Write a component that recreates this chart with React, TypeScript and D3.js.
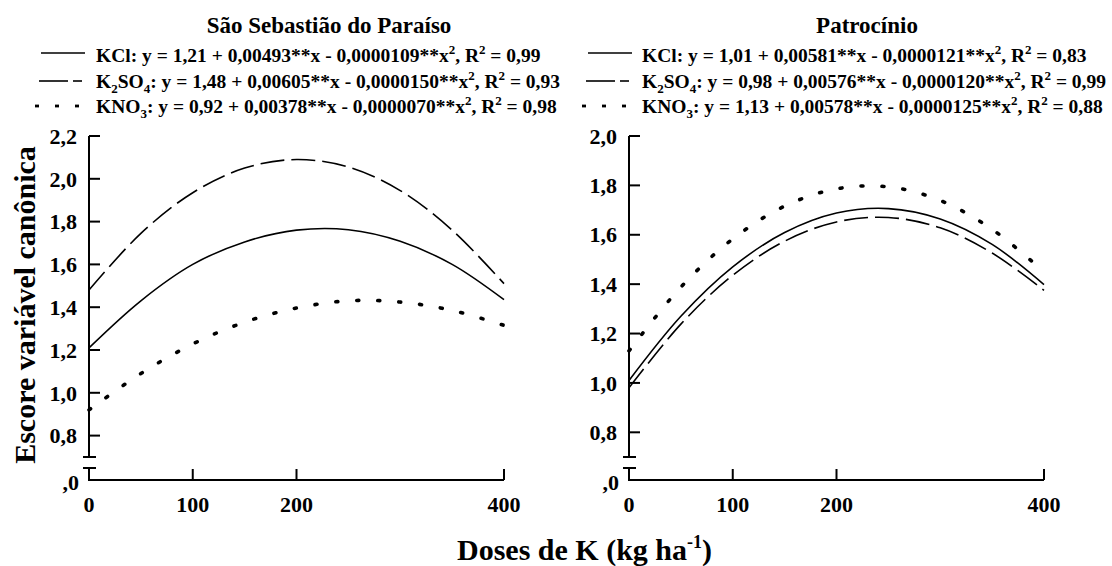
import * as d3 from "d3";

// doses of K (kg/ha) where curve values were read
const doses = [0, 50, 100, 150, 200, 250, 300, 350, 400];

// São Sebastião do Paraíso
const sspKCl = [1.21, 1.43, 1.6, 1.705, 1.76, 1.762, 1.708, 1.6, 1.435];
const sspK2SO4 = [1.48, 1.745, 1.935, 2.05, 2.09, 2.055, 1.945, 1.76, 1.51];
const sspKNO3 = [0.92, 1.09, 1.228, 1.33, 1.396, 1.43, 1.424, 1.385, 1.315];

// Patrocínio
const patKCl = [1.01, 1.27, 1.47, 1.609, 1.688, 1.706, 1.664, 1.561, 1.398];
const patK2SO4 = [0.98, 1.238, 1.436, 1.574, 1.652, 1.67, 1.628, 1.526, 1.375];
const patKNO3 = [1.13, 1.388, 1.583, 1.716, 1.786, 1.794, 1.739, 1.622, 1.45];

const xTicks = [0, 100, 200, 400];
const sspYTicks = [0.8, 1.0, 1.2, 1.4, 1.6, 1.8, 2.0, 2.2];
const patYTicks = [0.8, 1.0, 1.2, 1.4, 1.6, 1.8, 2.0];

// legend equations: [name pieces (odd = subscript), a, b, c, r2]
const sspEq = [
  [["KCl"], "1,21", "0,00493", "0,0000109", "0,99"],
  [["K", "2", "SO", "4"], "1,48", "0,00605", "0,0000150", "0,93"],
  [["KNO", "3"], "0,92", "0,00378", "0,0000070", "0,98"],
];
const patEq = [
  [["KCl"], "1,01", "0,00581", "0,0000121", "0,83"],
  [["K", "2", "SO", "4"], "0,98", "0,00576", "0,0000120", "0,99"],
  [["KNO", "3"], "1,13", "0,00578", "0,0000125", "0,88"],
];

const FONT = "Liberation Serif";
const txt = { fontFamily: FONT, fontWeight: 700 } as const;
const dashes = ["none", "24,7", "2,19"];

const fmt = (v: number) => (v === 0 ? ",0" : d3.format(".1f")(v).replace(".", ","));

function Formula({ x, y, eq }: { x: number; y: number; eq: any[] }) {
  const [name, a, b, c, r2] = eq;
  let shift = 0;
  const nodes = (name as string[]).map((p, i) => {
    const target = i % 2 === 1 ? 5 : 0;
    const dy = target - shift;
    shift = target;
    return (
      <tspan key={i} dy={dy} fontSize={i % 2 === 1 ? 13 : 19.5}>
        {p}
      </tspan>
    );
  });
  const back = -shift;
  return (
    <text x={x} y={y} style={{ ...txt, fontSize: 19.5 }}>
      {nodes}
      <tspan dy={back}>{`: y = ${a} + ${b}**x - ${c}**x`}</tspan>
      <tspan dy={-8} fontSize={13}>2</tspan>
      <tspan dy={8}>{", R"}</tspan>
      <tspan dy={-8} fontSize={13}>2</tspan>
      <tspan dy={8}>{` = ${r2}`}</tspan>
    </text>
  );
}

function Panel({ x0, x1, yTop, yMax, yTicks, series, title, titleX, eqs, legendX, textX }: any) {
  const yBreak = 457;
  const xAxisY = 480;
  const x = d3.scaleLinear().domain([0, 400]).range([x0, x1]);
  const y = d3.scaleLinear().domain([0.7, yMax]).range([yBreak, yTop]);
  const line = d3
    .line<number>()
    .x((_, i) => x(doses[i]))
    .y((d) => y(d))
    .curve(d3.curveCatmullRom.alpha(0.5));

  const sampleY = [53, 81, 106];
  const baseY = [61.5, 88, 113];
  return (
    <g>
      <text x={titleX} y={33} textAnchor="middle" style={{ ...txt, fontSize: 23 }}>
        {title}
      </text>
      {/* legend */}
      {eqs.map((eq: any[], i: number) => (
        <g key={i}>
          {i === 0 && (
            <line x1={legendX + 1} x2={legendX + 45} y1={sampleY[i]} y2={sampleY[i]} stroke="#000" strokeWidth={1.6} />
          )}
          {i === 1 && (
            <g>
              <line x1={legendX - 1} x2={legendX + 28} y1={sampleY[i]} y2={sampleY[i]} stroke="#000" strokeWidth={1.6} />
              <line x1={legendX + 33} x2={legendX + 42} y1={sampleY[i]} y2={sampleY[i]} stroke="#000" strokeWidth={1.6} />
            </g>
          )}
          {i === 2 &&
            [0, 20, 40].map((d) => (
              <line
                key={d}
                x1={legendX - 5 + d}
                x2={legendX - 1 + d}
                y1={sampleY[i]}
                y2={sampleY[i]}
                stroke="#000"
                strokeWidth={2.8}
              />
            ))}
          <Formula x={textX} y={baseY[i]} eq={eq} />
        </g>
      ))}

      {/* y axis upper segment */}
      <line x1={x0} x2={x0} y1={y(yMax)} y2={yBreak} stroke="#000" strokeWidth={2} />
      <line x1={x0 - 6} x2={x0 + 7} y1={yBreak} y2={yBreak} stroke="#000" strokeWidth={2} />
      {/* lower segment */}
      <line x1={x0} x2={x0} y1={468} y2={xAxisY} stroke="#000" strokeWidth={2} />
      <line x1={x0 - 6} x2={x0 + 7} y1={468} y2={468} stroke="#000" strokeWidth={2} />
      {yTicks.map((t: number) => (
        <g key={t}>
          <line x1={x0} x2={x0 + 11} y1={y(t)} y2={y(t)} stroke="#000" strokeWidth={2} />
          <text x={x0 - 12} y={y(t)} dy="0.35em" textAnchor="end" style={{ ...txt, fontSize: 22 }}>
            {fmt(t)}
          </text>
        </g>
      ))}
      <text x={x0 - 10} y={xAxisY + 2} dy="0.35em" textAnchor="end" style={{ ...txt, fontSize: 22 }}>
        {fmt(0)}
      </text>

      {/* x axis */}
      <line x1={x0 - 1} x2={x(400)} y1={xAxisY} y2={xAxisY} stroke="#000" strokeWidth={2} />
      {xTicks.map((t) => (
        <g key={t}>
          {t > 0 && <line x1={x(t)} x2={x(t)} y1={xAxisY} y2={xAxisY - 11} stroke="#000" strokeWidth={2} />}
          <text x={x(t)} y={504} dy="0.35em" textAnchor="middle" style={{ ...txt, fontSize: 22 }}>
            {t}
          </text>
        </g>
      ))}

      {/* curves */}
      {series.map((s: number[], i: number) => (
        <path
          key={i}
          d={line(s) || ""}
          fill="none"
          stroke="#000"
          strokeWidth={i === 2 ? 3.6 : 1.6}
          strokeDasharray={dashes[i]}
          strokeLinecap={i === 2 ? "round" : "butt"}
        />
      ))}
    </g>
  );
}

export default function App() {
  return (
    <svg width={1112} height={566} style={{ display: "block", position: "absolute", left: 0, top: 0 }}>
      <rect width={1112} height={566} fill="#fff" />
      <Panel
        x0={89}
        x1={504}
        yTop={136}
        yMax={2.2}
        yTicks={sspYTicks}
        series={[sspKCl, sspK2SO4, sspKNO3]}
        title="São Sebastião do Paraíso"
        titleX={329}
        eqs={sspEq}
        legendX={40}
        textX={96}
      />
      <Panel
        x0={629}
        x1={1044}
        yTop={136}
        yMax={2.0}
        yTicks={patYTicks}
        series={[patKCl, patK2SO4, patKNO3]}
        title="Patrocínio"
        titleX={867}
        eqs={patEq}
        legendX={587}
        textX={642}
      />
      <text transform="translate(35,305) rotate(-90)" textAnchor="middle" style={{ ...txt, fontSize: 30 }}>
        Escore variável canônica
      </text>
      <text x={457} y={560} style={{ ...txt, fontSize: 30 }}>
        Doses de K (kg ha
        <tspan dy={-12} fontSize={18}>-1</tspan>
        <tspan dy={12}>)</tspan>
      </text>
    </svg>
  );
}
